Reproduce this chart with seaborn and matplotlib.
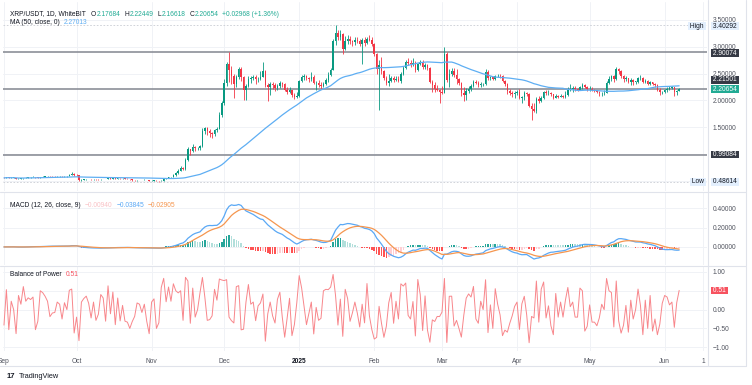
import numpy as np
import pandas as pd
import matplotlib
matplotlib.use("Agg")
import matplotlib.pyplot as plt
import matplotlib.dates as mdates
from matplotlib.lines import Line2D
import seaborn as sns

# ---- daily candles, XRP/USDT 1D (open = previous close) ----
first_open = 0.565
close_sep = [0.558, 0.567, 0.559, 0.563, 0.563, 0.540, 0.546, 0.548, 0.559, 0.563,
             0.568, 0.572, 0.578, 0.570, 0.566, 0.573, 0.582, 0.588, 0.592, 0.589,
             0.588, 0.587, 0.590, 0.592, 0.588, 0.590, 0.590, 0.610, 0.640, 0.612]
high_sep = [0.568, 0.572, 0.570, 0.568, 0.572, 0.566, 0.551, 0.552, 0.562, 0.572,
            0.572, 0.578, 0.585, 0.580, 0.573, 0.576, 0.590, 0.595, 0.600, 0.598,
            0.594, 0.593, 0.597, 0.598, 0.596, 0.594, 0.597, 0.625, 0.660, 0.645]
low_sep = [0.551, 0.555, 0.555, 0.550, 0.555, 0.530, 0.535, 0.538, 0.544, 0.554,
           0.556, 0.563, 0.567, 0.565, 0.560, 0.562, 0.570, 0.578, 0.582, 0.582,
           0.583, 0.580, 0.582, 0.584, 0.580, 0.583, 0.584, 0.586, 0.605, 0.600]

close_oct = [0.605, 0.520, 0.525, 0.530, 0.535, 0.537, 0.533, 0.536, 0.532, 0.530,
             0.536, 0.540, 0.536, 0.548, 0.546, 0.553, 0.547, 0.551, 0.548, 0.549,
             0.545, 0.540, 0.529, 0.522, 0.518, 0.521, 0.523, 0.522, 0.524, 0.519, 0.503]
high_oct = [0.625, 0.608, 0.535, 0.537, 0.540, 0.542, 0.545, 0.540, 0.540, 0.538,
            0.540, 0.545, 0.545, 0.552, 0.556, 0.556, 0.556, 0.555, 0.553, 0.552,
            0.552, 0.548, 0.542, 0.530, 0.528, 0.527, 0.528, 0.526, 0.530, 0.528, 0.522]
low_oct = [0.590, 0.505, 0.510, 0.520, 0.526, 0.530, 0.527, 0.525, 0.526, 0.522,
           0.525, 0.532, 0.532, 0.533, 0.538, 0.541, 0.541, 0.542, 0.543, 0.543,
           0.539, 0.533, 0.520, 0.508, 0.506, 0.510, 0.514, 0.513, 0.516, 0.512, 0.497]

close_nov = [0.506, 0.510, 0.503, 0.496, 0.509, 0.548, 0.553, 0.568, 0.572, 0.620,
             0.650, 0.690, 0.740, 0.720, 0.900, 1.090, 1.050, 1.130, 1.110, 1.110,
             1.150, 1.440, 1.480, 1.440, 1.400, 1.380, 1.450, 1.470, 1.730, 1.950]
high_nov = [0.512, 0.516, 0.512, 0.508, 0.515, 0.555, 0.560, 0.573, 0.578, 0.640,
            0.660, 0.720, 0.780, 0.770, 0.920, 1.130, 1.100, 1.180, 1.160, 1.140,
            1.170, 1.480, 1.500, 1.500, 1.460, 1.420, 1.470, 1.500, 1.780, 1.980]
low_nov = [0.497, 0.502, 0.498, 0.488, 0.493, 0.508, 0.536, 0.548, 0.560, 0.570,
           0.600, 0.630, 0.680, 0.700, 0.710, 0.880, 0.990, 1.040, 1.060, 1.070,
           1.080, 1.140, 1.380, 1.360, 1.310, 1.300, 1.340, 1.420, 1.460, 1.700]

close_dec = [2.320, 2.670, 2.560, 2.460, 2.300, 2.440, 2.580, 2.440, 2.200, 2.260,
             2.400, 2.420, 2.440, 2.390, 2.400, 2.430, 2.550, 2.290, 2.250, 2.300,
             2.280, 2.230, 2.260, 2.320, 2.300, 2.190, 2.160, 2.190, 2.100, 2.060, 2.080]
high_dec = [2.400, 2.710, 2.900, 2.640, 2.500, 2.480, 2.620, 2.620, 2.460, 2.300,
            2.450, 2.460, 2.480, 2.470, 2.440, 2.550, 2.720, 2.560, 2.330, 2.350,
            2.340, 2.320, 2.300, 2.360, 2.350, 2.320, 2.240, 2.240, 2.200, 2.130, 2.150]
low_dec = [1.920, 2.270, 2.350, 2.300, 2.050, 2.250, 2.400, 2.360, 2.000, 2.000,
           2.240, 2.320, 2.380, 2.300, 2.340, 2.380, 2.430, 2.250, 1.980, 2.100,
           2.220, 2.180, 2.190, 2.230, 2.250, 2.170, 2.110, 2.140, 2.070, 2.030, 2.040]

close_jan = [2.360, 2.440, 2.450, 2.410, 2.400, 2.430, 2.320, 2.330, 2.290, 2.260,
             2.310, 2.380, 2.470, 2.560, 3.110, 3.250, 3.180, 3.230, 2.960, 3.100,
             3.150, 3.100, 3.090, 3.120, 3.110, 3.050, 3.120, 3.060, 3.150, 3.130, 3.040]
high_jan = [2.380, 2.480, 2.500, 2.480, 2.440, 2.520, 2.470, 2.370, 2.380, 2.340,
            2.340, 2.420, 2.520, 2.600, 3.150, 3.400, 3.300, 3.300, 3.250, 3.190,
            3.220, 3.200, 3.130, 3.180, 3.170, 3.150, 3.160, 3.180, 3.180, 3.220, 3.180]
low_jan = [2.070, 2.340, 2.380, 2.380, 2.340, 2.370, 2.300, 2.200, 2.240, 2.210,
           2.240, 2.290, 2.350, 2.450, 2.560, 3.030, 3.130, 3.120, 2.870, 2.930,
           3.050, 3.040, 3.010, 3.030, 3.060, 3.020, 2.670, 3.010, 3.050, 3.100, 3.010]

close_feb = [2.860, 2.580, 2.660, 2.550, 2.410, 2.330, 2.370, 2.420, 2.380, 2.400,
             2.370, 2.500, 2.600, 2.720, 2.700, 2.670, 2.700, 2.560, 2.680, 2.720,
             2.620, 2.660, 2.600, 2.340, 2.280, 2.220, 2.200, 2.150]
high_feb = [3.060, 2.880, 2.750, 2.800, 2.570, 2.460, 2.490, 2.450, 2.460, 2.450,
            2.460, 2.520, 2.640, 2.760, 2.780, 2.750, 2.780, 2.730, 2.700, 2.760,
            2.760, 2.700, 2.680, 2.620, 2.380, 2.340, 2.280, 2.220]
low_feb = [2.830, 2.500, 1.830, 2.500, 2.380, 2.280, 2.270, 2.340, 2.350, 2.360,
           2.340, 2.330, 2.480, 2.590, 2.650, 2.630, 2.640, 2.530, 2.550, 2.660,
           2.580, 2.590, 2.570, 2.320, 2.160, 2.150, 2.170, 1.950]

close_mar = [2.140, 2.860, 2.380, 2.500, 2.550, 2.480, 2.400, 2.330, 2.140, 2.100,
             2.170, 2.220, 2.260, 2.340, 2.320, 2.280, 2.300, 2.300, 2.530, 2.420,
             2.430, 2.400, 2.450, 2.460, 2.450, 2.360, 2.300, 2.180, 2.140, 2.120, 2.130]
high_mar = [2.260, 3.000, 2.900, 2.580, 2.600, 2.600, 2.580, 2.420, 2.340, 2.240,
            2.230, 2.260, 2.300, 2.380, 2.380, 2.360, 2.340, 2.330, 2.580, 2.560,
            2.460, 2.440, 2.470, 2.500, 2.490, 2.470, 2.380, 2.320, 2.210, 2.180, 2.170]
low_mar = [2.110, 2.130, 2.350, 2.240, 2.460, 2.440, 2.300, 2.280, 2.080, 1.980,
           2.000, 2.140, 2.180, 2.250, 2.300, 2.250, 2.250, 2.270, 2.290, 2.380,
           2.380, 2.380, 2.380, 2.430, 2.420, 2.340, 2.270, 2.120, 2.100, 2.060, 2.050]

close_apr = [2.150, 2.050, 2.070, 2.130, 2.120, 1.900, 1.840, 1.800, 2.020, 1.980,
             2.040, 2.150, 2.130, 2.140, 2.110, 2.050, 2.080, 2.070, 2.080, 2.070,
             2.100, 2.200, 2.210, 2.230, 2.210, 2.200, 2.240, 2.290, 2.250, 2.210]
high_apr = [2.200, 2.220, 2.090, 2.170, 2.150, 2.130, 1.960, 1.960, 2.060, 2.080,
            2.080, 2.180, 2.190, 2.200, 2.150, 2.120, 2.110, 2.100, 2.110, 2.100,
            2.170, 2.250, 2.300, 2.260, 2.270, 2.230, 2.260, 2.320, 2.300, 2.270]
low_apr = [2.100, 2.030, 1.960, 2.000, 2.080, 1.880, 1.630, 1.780, 1.770, 1.960,
           1.970, 2.030, 2.100, 2.100, 2.080, 2.030, 2.040, 2.050, 2.060, 2.050,
           2.050, 2.080, 2.170, 2.160, 2.170, 2.180, 2.190, 2.220, 2.230, 2.180]

close_may = [2.220, 2.200, 2.180, 2.150, 2.130, 2.140, 2.140, 2.330, 2.400, 2.450,
             2.390, 2.580, 2.550, 2.450, 2.400, 2.410, 2.350, 2.380, 2.350, 2.350,
             2.410, 2.420, 2.340, 2.360, 2.310, 2.340, 2.300, 2.280, 2.200, 2.150, 2.160]
high_may = [2.260, 2.240, 2.220, 2.200, 2.170, 2.160, 2.200, 2.360, 2.450, 2.480,
            2.470, 2.630, 2.600, 2.570, 2.470, 2.450, 2.420, 2.410, 2.400, 2.370,
            2.440, 2.470, 2.440, 2.400, 2.380, 2.370, 2.350, 2.330, 2.300, 2.230, 2.180]
low_may = [2.180, 2.180, 2.160, 2.130, 2.080, 2.090, 2.100, 2.130, 2.310, 2.370,
           2.340, 2.380, 2.500, 2.410, 2.350, 2.360, 2.320, 2.290, 2.280, 2.310,
           2.330, 2.380, 2.320, 2.320, 2.280, 2.290, 2.280, 2.250, 2.180, 2.100, 2.120]

close_jun = [2.190, 2.220, 2.230, 2.240, 2.160, 2.17684, 2.20654]
high_jun = [2.210, 2.240, 2.270, 2.260, 2.250, 2.190, 2.22449]
low_jun = [2.130, 2.150, 2.190, 2.210, 2.080, 2.100, 2.16618]

# axis ticks / labels / levels
price_ticks = [3.5, 3.0, 2.5, 2.0, 1.5, 1.0, 0.5]
price_labels = ["3.50000", "3.00000", "2.50000", "2.00000", "1.50000", "", ""]
macd_ticks = [0.4, 0.2, 0.0]
macd_labels = ["0.40000", "0.20000", "0.00000"]
bop_ticks = [1.0, 0.5, 0.0, -0.5, -1.0]
bop_labels = ["1.00", "", "0.00", "\u22120.50", "\u22121.00"]
month_ticks = ["2024-09-01", "2024-10-01", "2024-11-01", "2024-12-01", "2025-01-01",
               "2025-02-01", "2025-03-01", "2025-04-01", "2025-05-01", "2025-06-01", "2025-06-17"]
month_labels = ["Sep", "Oct", "Nov", "Dec", "2025", "Feb", "Mar", "Apr", "May", "Jun", "1"]
level_lines = [2.90074, 2.21501, 0.99084]
high_val = 3.40292
low_val = 0.48614

# ---- build frame ----
closes = np.array(close_sep + close_oct + close_nov + close_dec + close_jan +
                  close_feb + close_mar + close_apr + close_may + close_jun)
highs = np.array(high_sep + high_oct + high_nov + high_dec + high_jan +
                 high_feb + high_mar + high_apr + high_may + high_jun)
lows = np.array(low_sep + low_oct + low_nov + low_dec + low_jan +
                low_feb + low_mar + low_apr + low_may + low_jun)
opens = np.concatenate([[first_open], closes[:-1]])
dates = pd.date_range("2024-09-01", periods=len(closes), freq="D")

df = pd.DataFrame({"date": mdates.date2num(dates), "open": opens, "high": highs,
                   "low": lows, "close": closes})
df["high"] = df[["high", "open", "close"]].max(axis=1)
df["low"] = df[["low", "open", "close"]].min(axis=1)
df["ma50"] = df["close"].rolling(50, min_periods=1).mean()
ema12 = df["close"].ewm(span=12, adjust=False).mean()
ema26 = df["close"].ewm(span=26, adjust=False).mean()
df["macd"] = ema12 - ema26
df["signal"] = df["macd"].ewm(span=9, adjust=False).mean()
df["hist"] = df["macd"] - df["signal"]
df["bop"] = (df["close"] - df["open"]) / (df["high"] - df["low"])

# ---- style ----
sns.set_style("white")
plt.rcParams["font.family"] = ["Liberation Sans", "DejaVu Sans"]
TXT = "#131722"
AXC = "#50535e"
GRID = "#f0f2f6"
SEP = "#e0e3eb"
UP = "#089981"
DOWN = "#f23645"

W, H = 752, 385
fig = plt.figure(figsize=(W / 100, H / 100), dpi=100)
fig.patch.set_facecolor("white")


def fx(px):
    return px / W


def fy(py):
    return 1 - py / H


x_left, x_right = 3, 707
ax_p = fig.add_axes([fx(x_left), fy(191), fx(x_right) - fx(x_left), fy(2) - fy(191)])
ax_m = fig.add_axes([fx(x_left), fy(265), fx(x_right) - fx(x_left), fy(192) - fy(265)])
ax_b = fig.add_axes([fx(x_left), fy(351), fx(x_right) - fx(x_left), fy(266) - fy(351)])

x0 = mdates.date2num(pd.Timestamp("2024-09-01"))
xlim = (x0 - 0.4, x0 + 290.5)
tick_nums = mdates.date2num(pd.to_datetime(month_ticks))

for ax in (ax_p, ax_m, ax_b):
    ax.set_xlim(*xlim)
    ax.set_xticks(tick_nums)
    ax.set_facecolor("white")
    ax.grid(True, color=GRID, linewidth=0.7)
    ax.set_axisbelow(True)
    ax.yaxis.tick_right()
    ax.tick_params(length=0, labelsize=4.8, colors=AXC, pad=4)
    for s in ax.spines.values():
        s.set_visible(False)

# ---- price pane ----
up = df["close"] >= df["open"]
cols = np.where(up, UP, DOWN)
ax_p.vlines(df["date"], df["low"], df["high"], colors=cols, linewidth=0.6, zorder=3)
body = (df["close"] - df["open"]).abs().clip(lower=0.006)
ax_p.bar(df["date"], body, bottom=np.minimum(df["open"], df["close"]), width=0.62,
         color=cols, linewidth=0, zorder=3)
sns.lineplot(data=df, x="date", y="ma50", ax=ax_p, color="#5eaef3", linewidth=0.9, zorder=4)

for lv in level_lines:
    ax_p.axhline(lv, color="#83868f", linewidth=1.1, zorder=2)
for lv in (high_val, low_val):
    ax_p.axhline(lv, color="#c9ccd3", linewidth=0.6, linestyle=(0, (2, 2)), zorder=2)

ax_p.set_ylim(0.315, 3.83)
ax_p.set_yticks(price_ticks)
ax_p.set_yticklabels(price_labels)
ax_p.tick_params(labelbottom=False)
ax_p.set_xlabel("")
ax_p.set_ylabel("")


def tag(ax, y, text, fc, tc, dy=0, dx=3, ha="left"):
    ax.annotate(text, xy=(1, y), xycoords=("axes fraction", "data"),
                xytext=(dx, dy), textcoords="offset points", ha=ha, va="center",
                fontsize=4.8, color=tc, zorder=10, annotation_clip=False,
                bbox=dict(boxstyle="square,pad=0.05", fc=fc, ec="none"))


tag(ax_p, high_val, " 3.40292 ", "#e3effd", TXT, dy=-0.8)
tag(ax_p, high_val, " High ", "#e3effd", TXT, dx=-1, dy=-0.8, ha="right")
tag(ax_p, low_val, " 0.48614 ", "#e3effd", TXT)
tag(ax_p, low_val, " Low ", "#e3effd", TXT, dx=-1, ha="right")
tag(ax_p, level_lines[0], " 2.90074 ", "#363a45", "white", dy=-0.8)
tag(ax_p, level_lines[2], " 0.99084 ", "#363a45", "white")
tag(ax_p, level_lines[1], " 2.21501 ", "#363a45", "white", dy=6.4)
tag(ax_p, df["close"].iloc[-1], " 2.20654 ", "#22ab94", "white")

# ---- MACD pane ----
h = df["hist"].values
prev = np.concatenate([[0.0], h[:-1]])
hcols = np.where(h >= 0, np.where(h >= prev, "#26a69a", "#b2dfdb"),
                 np.where(h < prev, "#ff5252", "#ffcdd2"))
ax_m.bar(df["date"], h, width=0.62, color=hcols, linewidth=0, zorder=2)
sns.lineplot(data=df, x="date", y="macd", ax=ax_m, color="#5aa8f5", linewidth=0.9, zorder=3)
sns.lineplot(data=df, x="date", y="signal", ax=ax_m, color="#f5964f", linewidth=0.9, zorder=3)
ax_m.set_ylim(-0.188, 0.571)
ax_m.set_yticks(macd_ticks)
ax_m.set_yticklabels(macd_labels)
ax_m.tick_params(labelbottom=False)
ax_m.set_xlabel("")
ax_m.set_ylabel("")

# ---- Balance of Power pane ----
sns.lineplot(data=df, x="date", y="bop", ax=ax_b, color="#f8868b", linewidth=0.7, zorder=3)
ax_b.set_ylim(-1.1, 1.158)
ax_b.set_yticks(bop_ticks)
ax_b.set_yticklabels(bop_labels)
ax_b.set_xticklabels(month_labels)
ax_b.tick_params(axis="x", pad=5)
ax_b.get_xticklabels()[4].set_fontweight("bold")
ax_b.get_xticklabels()[4].set_color(TXT)
ax_b.set_xlabel("")
ax_b.set_ylabel("")
tag(ax_b, df["bop"].iloc[-1], " %.2f " % df["bop"].iloc[-1], "#f7525f", "white")

# ---- frame / separators ----
for yy in (191.5, 265.5):
    fig.add_artist(Line2D([0, fx(746)], [fy(yy), fy(yy)], color=SEP, linewidth=0.8))
fig.add_artist(Line2D([fx(707.5), fx(707.5)], [fy(0), fy(366)], color=SEP, linewidth=0.8))
fig.add_artist(Line2D([fx(746), fx(746)], [fy(0), fy(366)], color=SEP, linewidth=0.8))
fig.add_artist(Line2D([0, fx(746)], [fy(366), fy(366)], color=SEP, linewidth=0.8))

# ---- legends / headers (segments laid out left to right) ----
renderer = fig.canvas.get_renderer()


def header(y, parts, x=10, size=4.8):
    for text, color, gap in parts:
        t = fig.text(fx(x), fy(y), text, color=color, fontsize=size, va="center", ha="left")
        bb = t.get_window_extent(renderer=renderer)
        x = bb.x1 + gap


green_txt = "#22ab94"
header(14, [("XRP/USDT, 1D, WhiteBIT", TXT, 5), ("O", TXT, 0.5), ("2.17684", green_txt, 4),
            ("H", TXT, 0.5), ("2.22449", green_txt, 4), ("L", TXT, 0.5),
            ("2.16618", green_txt, 4), ("C", TXT, 0.5), ("2.20654", green_txt, 3),
            ("+0.02968 (+1.36%)", green_txt, 0)])
header(22, [("MA (50, close, 0)", TXT, 4), ("2.27013", "#5eaef3", 0)])
header(206, [("MACD (12, 26, close, 9)", TXT, 4), ("\u22120.00940", "#f9c1c5", 4),
             ("\u22120.03845", "#5aa8f5", 4), ("\u22120.02905", "#f5964f", 0)])
header(274, [("Balance of Power", TXT, 4), ("0.51", "#f7525f", 0)])

fig.text(fx(7), fy(376), "17", color=TXT, fontsize=5.5, fontweight="bold", va="center")
fig.text(fx(19), fy(376), "TradingView", color=TXT, fontsize=5.3, va="center")

fig.savefig("out.png", dpi=100, facecolor="white")
